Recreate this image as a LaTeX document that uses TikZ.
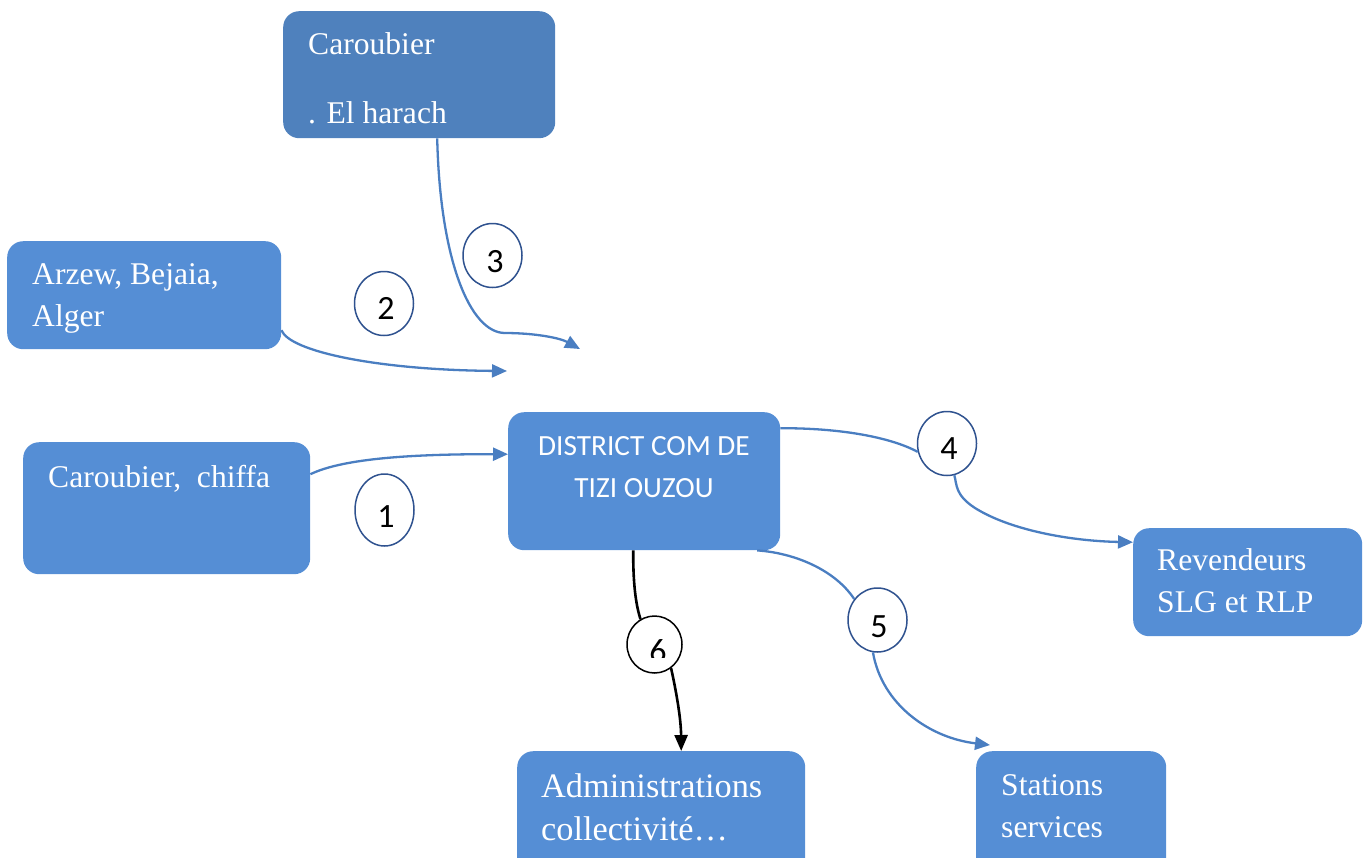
\documentclass[tikz,border=0pt]{standalone}
\usepackage{fontspec}
\setmainfont{Liberation Serif}
\newfontfamily\calfont{Carlito}
\usetikzlibrary{arrows.meta,shapes.geometric}

\definecolor{boxblue}{RGB}{85,142,213}
\definecolor{topblue}{RGB}{79,129,189}
\definecolor{linkblue}{RGB}{74,126,193}
\definecolor{ringblue}{RGB}{47,82,143}

\begin{document}
\begin{tikzpicture}[x=1pt,y=-1pt,
  box/.style={rectangle, fill=boxblue, rounded corners=16pt, anchor=north west, inner sep=0pt},
  boxtext/.style={text=white, inner sep=0pt, anchor=base west, font=\fontsize{31.6}{40}\selectfont},
  disttext/.style={text=white, inner sep=0pt, anchor=base, font=\calfont\fontsize{29.3}{30}\selectfont},
  ring/.style={ellipse, draw=ringblue, line width=1.5pt, fill=white, minimum width=59pt, minimum height=64pt, inner sep=0pt},
  digit/.style={inner sep=0pt, font=\calfont\fontsize{34}{34}\selectfont},
  link/.style={draw=linkblue, line width=2.3pt},
  linkarrow/.style={link, -{Triangle[length=15pt,width=13pt]}},
  blacklink/.style={draw=black, line width=2.6pt},
  blackarrow/.style={blacklink, -{Triangle[length=16pt,width=13pt]}}
]
\useasboundingbox (0,0) rectangle (1367,857);

% supplier and customer boxes
\node[box, fill=topblue, minimum width=272pt, minimum height=127pt] (bTop) at (283,11) {};
\node[box, minimum width=274pt, minimum height=108pt] (bArz) at (7,241) {};
\node[box, minimum width=287pt, minimum height=132pt] (bChi) at (23,442) {};
\node[box, minimum width=272pt, minimum height=138pt] (dist) at (508,412) {};
\node[box, minimum width=229pt, minimum height=108pt] (rev) at (1133,528) {};
\node[box, minimum width=288pt, minimum height=130pt] (adm) at (517,751) {};
\node[box, minimum width=190pt, minimum height=130pt] (sta) at (976,751) {};

% box labels
\node[boxtext] (tTopA) at (308,54) {Caroubier};
\node[boxtext] (tTopB) at (308,123) {. El harach};
\node[boxtext] (tArzA) at (32,284) {Arzew, Bejaia,};
\node[boxtext] (tArzB) at (32,326) {Alger};
\node[boxtext] (tChi) at (48,487) {Caroubier,\ \ chiffa};
\node[disttext] (tDistA) at (644,455) {DISTRICT COM DE};
\node[disttext] (tDistB) at (644,497) {TIZI OUZOU};
\node[boxtext] (tRevA) at (1157,570) {Revendeurs};
\node[boxtext] (tRevB) at (1157,612) {SLG et RLP};
\node[boxtext, font=\fontsize{34.3}{40}\selectfont] (tAdmA) at (541,797) {Administrations};
\node[boxtext, font=\fontsize{34.3}{40}\selectfont] (tAdmB) at (541,840) {collectivité…};
\node[boxtext] (tStaA) at (1001,795) {Stations};
\node[boxtext] (tStaB) at (1001,837) {services};

% free ends of flows 2 and 3
\coordinate (e2) at (507,371);
\coordinate (e3) at (580,349);
\coordinate (k3) at (505,333);

% flows 1 to 3 (supply)
\draw[linkarrow] ([yshift=34pt]bChi.east) .. controls (340,460) and (400,454) .. ([yshift=27pt]dist.west);
\draw[linkarrow] ([yshift=-35pt]bArz.east) .. controls (290,352) and (380,370) .. (e2);
\draw[link] ([xshift=18pt]bTop.south) .. controls (440,260) and (470,333) .. (k3);
\draw[linkarrow] (k3) .. controls (535,333) and (560,338) .. (e3);

% numbered rings
\node[ring, minimum height=72pt] (c1) at (384.5,510) {};
\node[ring] (c2) at (384,303.5) {};
\node[ring] (c3) at (492.5,255.5) {};
\node[ring] (c4) at (947,443.5) {};
\node[ring] (c5) at (877.5,620) {};
\node[ring, draw=black, minimum width=55pt, minimum height=57pt] (c6) at (654.5,644.5) {};
\node[digit] (d1) at (386,517) {1};
\node[digit] (d2) at (386,308) {2};
\node[digit] (d3) at (495,261.5) {3};
\node[digit] (d4) at (949,449) {4};
\node[digit] (d5) at (879,626.5) {5};
\begin{scope}
  \clip (620,600) rectangle (700,657);
  \node[digit] (d6) at (658,651) {6};
\end{scope}

% flows 4 to 6 (delivery)
\draw[link] ([yshift=53pt]dist.east) .. controls (840,428) and (890,437) .. (c4.196);
\draw[linkarrow] (c4.-77) .. controls (957,485) and (955,495) .. (975,508) .. controls (1010,530) and (1070,541) .. ([yshift=40pt]rev.west);
\draw[link] ([xshift=113pt]dist.south) .. controls (795,553) and (835,570) .. (c5.138);
\draw[linkarrow] (c5.-98) .. controls (882,705) and (930,738) .. ([xshift=14pt,yshift=6pt]sta.north west);
\draw[blacklink] ([xshift=-11pt]dist.south) .. controls (633,590) and (637,608) .. (c6.119);
\draw[blackarrow] (c6.-55) .. controls (677,695) and (681,720) .. ([xshift=20pt]adm.north);
\end{tikzpicture}
\end{document}
